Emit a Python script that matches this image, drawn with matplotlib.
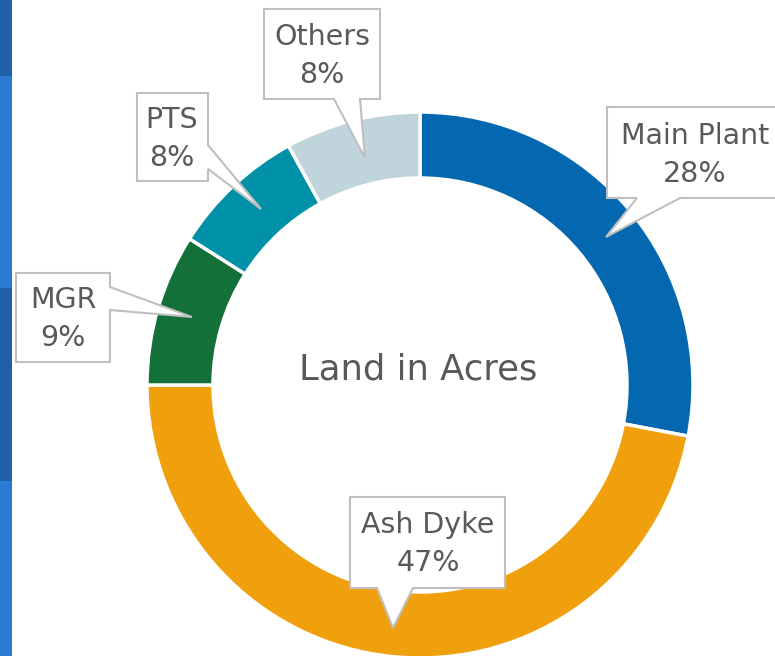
import matplotlib.pyplot as plt
from matplotlib.patches import Polygon, Rectangle

# data
names = ['Main Plant', 'Ash Dyke', 'MGR', 'PTS', 'Others']
shares = [28, 47, 9, 8, 8]
colors = ['#0468B0', '#F0A00C', '#127038', '#0091A9', '#BFD5DB']
center_title = 'Land in Acres'

W, H = 775, 656

# callout layout in pixel coords (origin top-left): text centre and outline
callouts = {
    'Main Plant': ((695, 155), [(607, 107), (790, 107), (790, 198), (680, 198),
                                (606, 237), (637, 198), (607, 198)]),
    'Ash Dyke': ((428, 544), [(350, 497), (505, 497), (505, 588), (413, 588),
                              (393, 628), (377, 588), (350, 588)]),
    'MGR': ((63, 319), [(16, 273), (110, 273), (110, 287), (192, 317),
                        (110, 310), (110, 362), (16, 362)]),
    'PTS': ((172, 139), [(137, 93), (208, 93), (208, 145), (261, 209),
                         (208, 169), (208, 181), (137, 181)]),
    'Others': ((322, 56), [(264, 9), (380, 9), (380, 99), (360, 99),
                           (365, 158), (334, 99), (264, 99)]),
}


def flip(pts):
    return [(x, H - y) for x, y in pts]


fig = plt.figure(figsize=(W / 100, H / 100), dpi=100)
ax = fig.add_axes([0, 0, 1, 1])

# slide edge stripes on the left
stripes = [(0, 76, '#1F60A8'), (76, 288, '#2A7BD4'), (288, 481, '#1F60A8'), (481, 656, '#2A7BD4')]
for y0, y1, c in stripes:
    ax.add_patch(Rectangle((0, H - y1), 12, y1 - y0, color=c, lw=0))

ax.pie(shares, colors=colors, startangle=90, counterclock=False,
       center=(420, H - 385), radius=273, frame=True,
       wedgeprops=dict(width=66, edgecolor='white', linewidth=2.5))
ax.set_xlim(0, W)
ax.set_ylim(0, H)
ax.set_aspect('equal')
ax.axis('off')

ax.text(418, H - 369, center_title, ha='center', va='center',
        fontsize=25.5, color='#595959', family='DejaVu Sans')

for name, share in zip(names, shares):
    (tx, ty), outline = callouts[name]
    ax.add_patch(Polygon(flip(outline), closed=True, facecolor='white',
                         edgecolor='#BFBFBF', linewidth=1.5, zorder=5))
    ax.text(tx, H - ty, f'{name}\n{share}%', ha='center', va='center',
            fontsize=20.5, color='#595959', linespacing=1.45, zorder=6,
            family='DejaVu Sans')

fig.savefig('out.png', dpi=100)
